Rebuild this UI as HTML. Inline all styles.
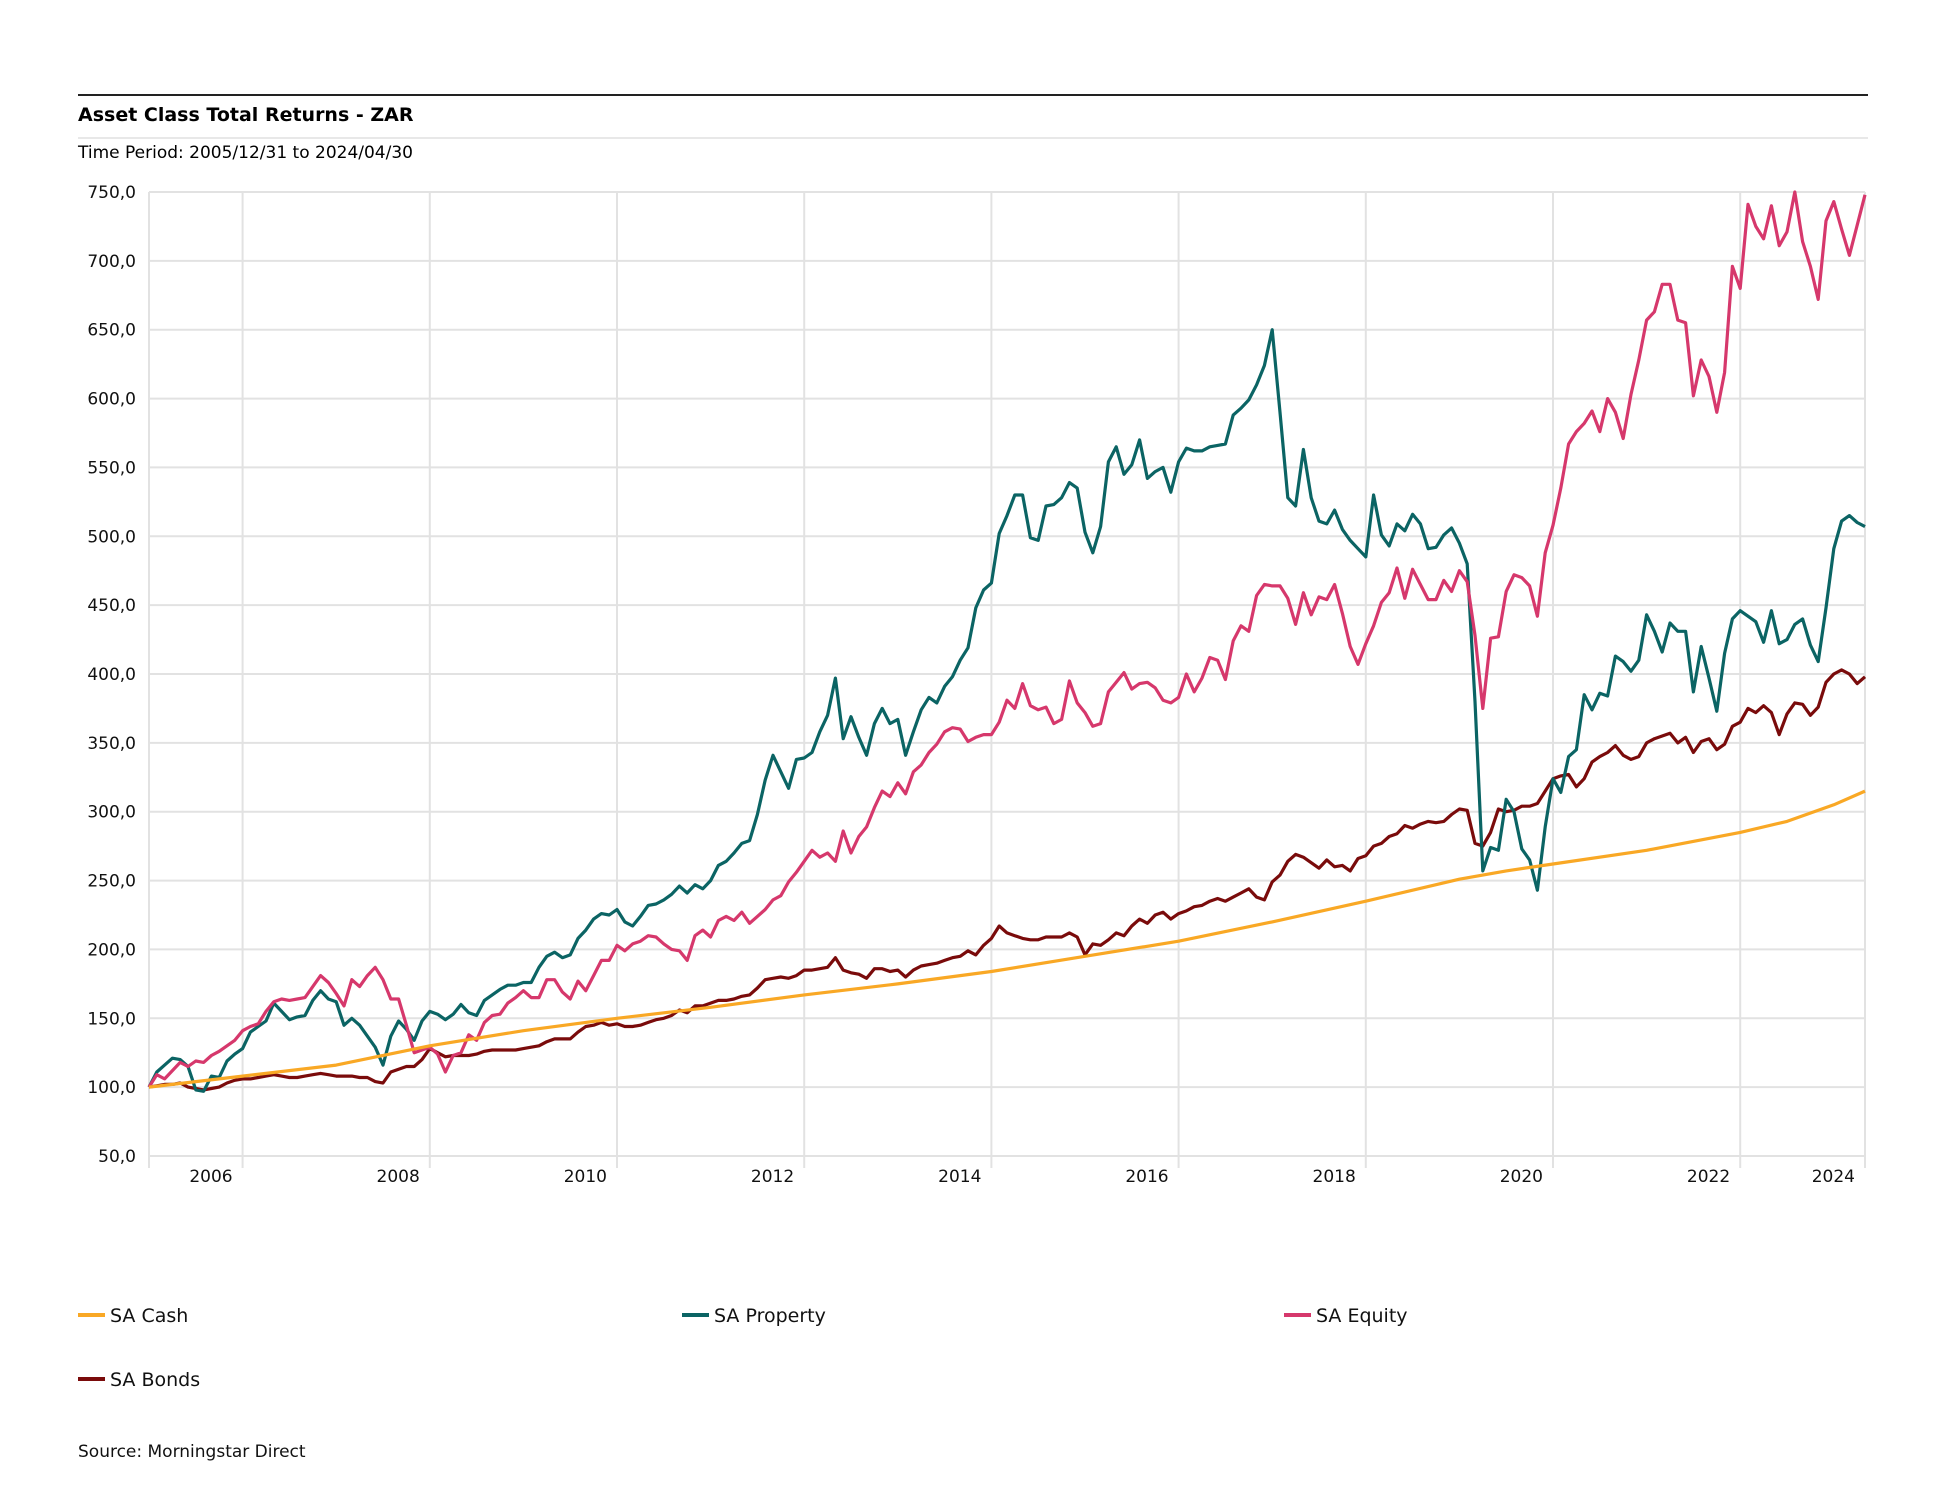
<!DOCTYPE html>
<html><head><meta charset="utf-8"><style>
html,body{margin:0;padding:0;background:#fff;}
svg{display:block;font-family:"DejaVu Sans","Liberation Sans",sans-serif;}
</style></head><body>
<svg id="chart" width="1942" height="1500" viewBox="0 0 1942 1500">
<rect x="0" y="0" width="1942" height="1500" fill="#fff"/>
<line x1="78" y1="95" x2="1868" y2="95" stroke="#222" stroke-width="2"/>
<text x="78" y="121" font-size="19" font-weight="bold" fill="#000">Asset Class Total Returns - ZAR</text>
<line x1="78" y1="138" x2="1868" y2="138" stroke="#e8e8e8" stroke-width="2"/>
<text x="78" y="158" font-size="17" fill="#000">Time Period: 2005/12/31 to 2024/04/30</text>
<g id="grid"></g>
<g id="series"></g>
<g>
  <g><line x1="78" y1="1315" x2="105" y2="1315" stroke="#f9a825" stroke-width="4"/><text x="110" y="1322" font-size="19" fill="#111">SA Cash</text></g>
  <g><line x1="682" y1="1315" x2="709" y2="1315" stroke="#0b6464" stroke-width="4"/><text x="714" y="1322" font-size="19" fill="#111">SA Property</text></g>
  <g><line x1="1284" y1="1315" x2="1311" y2="1315" stroke="#d6386c" stroke-width="4"/><text x="1316" y="1322" font-size="19" fill="#111">SA Equity</text></g>
  <g><line x1="78" y1="1379" x2="105" y2="1379" stroke="#7a0b0b" stroke-width="4"/><text x="110" y="1386" font-size="19" fill="#111">SA Bonds</text></g>
</g>
<text x="78" y="1457" font-size="17" fill="#111">Source: Morningstar Direct</text>
</svg>
<script>
const yTicks = [50,100,150,200,250,300,350,400,450,500,550,600,650,700,750];
const yTickLabels = ["50,0","100,0","150,0","200,0","250,0","300,0","350,0","400,0","450,0","500,0","550,0","600,0","650,0","700,0","750,0"];
const xTickMonths = [12,36,60,84,108,132,156,180,204,220];
const xTickLabels = ["2006","2008","2010","2012","2014","2016","2018","2020","2022","2024"];
const cashMonths = [0,12,24,36,48,60,72,84,96,108,120,132,144,156,168,174,180,192,204,210,216,220];
const cashValues = [100,108,116,130,141,150,158,167,175,184,195,206,220,235,251,257,262,272,285,293,305,315];
const propertyValues = [100,111,116,121,120,115,98,97,108,107,119,124,128,
140,144,148,161,155,149,151,152,163,170,164,162,
145,150,145,137,129,116,137,148,142,134,148,155,
153,149,153,160,154,152,163,167,171,174,174,176,
176,187,195,198,194,196,208,214,222,
226,225,229,220,217,224,232,233,236,240,246,241,247,244,250,261,264,270,277,279,298,323,341,329,317,338,339,343,358,370,397,353,369,354,341,364,375,364,367,341,358,374,383,379,391,398,410,419,448,461,466,
502,515,530,530,499,497,522,523,528,539,535,503,488,507,554,565,545,552,570,542,547,550,532,554,564,562,562,565,566,567,588,593,599,610,624,650,590,528,522,563,528,511,509,519,505,497,491,485,530,
501,493,509,504,516,509,491,492,501,506,495,480,380,257,274,272,309,300,273,265,243,289,324,314,340,345,385,374,386,384,413,
409,402,410,443,431,416,437,431,431,387,420,397,373,415,440,446,442,438,423,446,422,425,436,440,421,409,448,491,511,515,510,507];
const equityValues = [100,109,106,112,118,115,119,118,123,126,130,134,141,
144,146,155,162,164,163,164,165,173,181,176,168,
159,178,173,181,187,178,164,164,145,125,127,129,
124,111,123,125,138,134,147,152,153,161,165,170,
165,165,178,178,169,164,177,170,181,
192,192,203,199,204,206,210,209,204,200,199,192,210,214,209,221,224,221,227,219,224,229,236,239,249,256,264,272,267,270,264,286,270,282,289,303,315,311,321,313,329,334,343,349,358,361,360,351,354,356,356,
365,381,375,393,377,374,376,364,367,395,379,372,362,364,387,394,401,389,393,394,390,381,379,383,400,387,397,412,410,396,424,435,431,457,465,464,464,455,436,459,443,456,454,465,444,420,407,422,435,
452,459,477,455,476,465,454,454,468,460,475,467,428,375,426,427,460,472,470,464,442,488,508,535,567,576,582,591,576,600,590,
571,603,628,657,663,683,683,657,655,602,628,616,590,619,696,680,741,725,716,740,711,721,750,714,696,672,729,743,723,704,726,748];
const bondsValues = [100,101,102,102,103,100,99,98,99,100,103,105,106,
106,107,108,109,108,107,107,108,109,110,109,108,
108,108,107,107,104,103,111,113,115,115,120,128,
125,122,123,123,123,124,126,127,127,127,127,128,
129,130,133,135,135,135,140,144,145,
147,145,146,144,144,145,147,149,150,152,156,154,159,159,161,163,163,164,166,167,172,178,179,180,179,181,185,185,186,187,194,185,183,182,179,186,186,184,185,180,185,188,189,190,192,194,195,199,196,203,208,
217,212,210,208,207,207,209,209,209,212,209,196,204,203,207,212,210,217,222,219,225,227,222,226,228,231,232,235,237,235,238,241,244,238,236,249,254,264,269,267,263,259,265,260,261,257,266,268,275,
277,282,284,290,288,291,293,292,293,298,302,301,277,275,285,302,300,301,304,304,306,315,324,326,327,318,324,336,340,343,348,
341,338,340,350,353,355,357,350,354,343,351,353,345,349,362,365,375,372,377,372,356,371,379,378,370,376,394,400,403,400,393,398];

const NS = "http://www.w3.org/2000/svg";
const X0 = 149, X1 = 1865, MMAX = 220, Y0 = 1156, Y1 = 192, VMIN = 50, VMAX = 750;
function xScale(m){ return X0 + (X1 - X0) * m / MMAX; }
function yScale(v){ return Y0 - (Y0 - Y1) * (v - VMIN) / (VMAX - VMIN); }
function mk(tag, attrs){ const e = document.createElementNS(NS, tag); for (const k in attrs) e.setAttribute(k, attrs[k]); return e; }

const grid = document.getElementById('grid');
yTicks.forEach((v, i) => {
  const y = yScale(v);
  const ln = mk('line', {x1: X0, x2: X1, y1: y, y2: y, stroke: '#e2e2e2', 'stroke-width': 2});
  
  
  grid.appendChild(ln);
  const t = mk('text', {x: 136, y: y + 6, 'text-anchor': 'end', 'font-size': 17, fill: '#111'});
  t.textContent = yTickLabels[i];
  
  
  grid.appendChild(t);
});
const vlines = [0].concat(xTickMonths);
vlines.forEach(m => {
  const x = xScale(m);
  const ln = mk('line', {x1: x, x2: x, y1: Y1, y2: Y0 + 12, stroke: '#e2e2e2', 'stroke-width': 2});
  
  
  grid.appendChild(ln);
});
xTickMonths.forEach((m, i) => {
  const t = mk('text', {x: xScale(m) - 10, y: 1182, 'text-anchor': 'end', 'font-size': 17, fill: '#111'});
  t.textContent = xTickLabels[i];
  
  
  grid.appendChild(t);
});

const series = document.getElementById('series');
function drawLine(months, values, color, name){
  const d = values.map((v, i) => (i ? 'L' : 'M') + xScale(months[i]).toFixed(1) + ' ' + yScale(v).toFixed(1)).join(' ');
  const p = mk('path', {d: d, fill: 'none', stroke: color, 'stroke-width': 3.2, 'stroke-linejoin': 'round'});
  
  
  series.appendChild(p);
}
const monthIdx = propertyValues.map((_, i) => i);
drawLine(monthIdx, bondsValues, '#7a0b0b', 'sa-bonds-line');
drawLine(monthIdx, propertyValues, '#0b6464', 'sa-property-line');
drawLine(monthIdx, equityValues, '#d6386c', 'sa-equity-line');
drawLine(cashMonths, cashValues, '#f9a825', 'sa-cash-line');
</script>
</body></html>
